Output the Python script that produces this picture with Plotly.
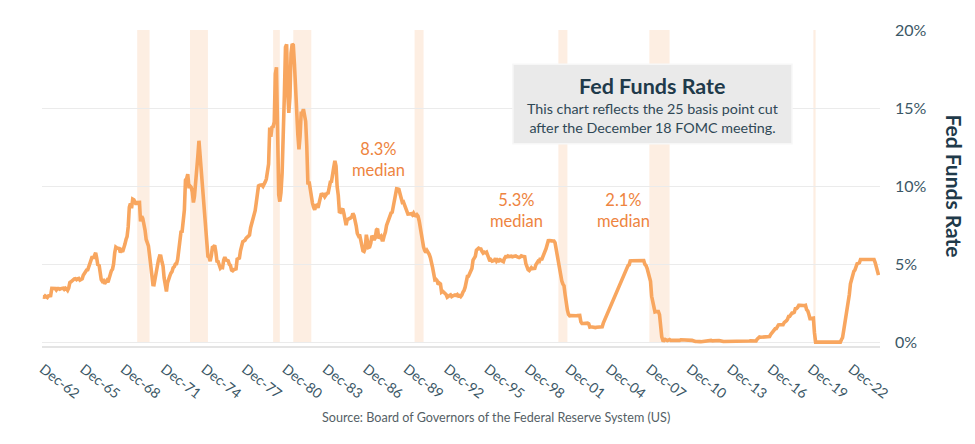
import pandas as pd
import plotly.graph_objects as go

# Monthly effective Fed Funds rate (%), Dec 1962 .. Dec 2024
start_month = "1962-12-01"
rates_1962 = [2.93]
rates_by_year = {
    1963: [2.92, 3.00, 2.98, 2.90, 3.00, 2.99, 3.02, 3.49, 3.48, 3.50, 3.48, 3.38],
    1964: [3.48, 3.48, 3.43, 3.47, 3.50, 3.50, 3.42, 3.50, 3.45, 3.36, 3.52, 3.85],
    1965: [3.90, 3.98, 4.04, 4.09, 4.10, 4.04, 4.09, 4.12, 4.01, 4.08, 4.10, 4.32],
    1966: [4.42, 4.60, 4.65, 4.67, 4.90, 5.17, 5.30, 5.53, 5.40, 5.53, 5.76, 5.40],
    1967: [4.94, 5.00, 4.53, 4.05, 3.94, 3.98, 3.79, 3.90, 3.99, 3.88, 4.13, 4.51],
    1968: [4.61, 4.71, 5.05, 5.76, 6.12, 6.07, 6.02, 6.03, 5.78, 5.91, 5.82, 6.02],
    1969: [6.30, 6.61, 6.79, 7.41, 8.67, 8.90, 8.61, 9.19, 9.15, 9.00, 8.85, 8.97],
    1970: [8.98, 8.98, 7.76, 8.10, 7.95, 7.61, 7.21, 6.61, 6.29, 6.20, 5.60, 4.90],
    1971: [4.14, 3.72, 3.71, 4.16, 4.63, 4.91, 5.31, 5.56, 5.55, 5.20, 4.91, 4.14],
    1972: [3.50, 3.29, 3.83, 4.17, 4.27, 4.46, 4.55, 4.80, 4.87, 5.04, 5.06, 5.33],
    1973: [5.94, 6.58, 7.09, 7.12, 7.84, 8.49, 10.40, 10.50, 10.78, 10.01, 10.03, 9.95],
    1974: [9.65, 8.97, 9.35, 10.51, 11.31, 11.93, 12.92, 12.01, 11.34, 10.06, 9.45, 8.53],
    1975: [7.13, 6.24, 5.54, 5.49, 5.22, 5.55, 6.10, 6.14, 6.24, 5.82, 5.22, 5.20],
    1976: [4.87, 4.77, 4.84, 4.82, 5.29, 5.48, 5.31, 5.29, 5.25, 5.02, 4.95, 4.65],
    1977: [4.61, 4.68, 4.69, 4.73, 5.35, 5.39, 5.42, 5.90, 6.14, 6.47, 6.51, 6.56],
    1978: [6.70, 6.78, 6.79, 6.89, 7.36, 7.60, 7.81, 8.04, 8.45, 8.96, 9.76, 10.03],
    1979: [10.07, 10.06, 10.09, 10.01, 10.24, 10.29, 10.47, 10.94, 11.43, 13.77, 13.18, 13.78],
    1980: [13.82, 14.13, 17.19, 17.61, 10.98, 9.47, 9.03, 9.61, 10.87, 12.81, 15.85, 18.90],
    1981: [19.08, 15.93, 14.70, 15.72, 18.52, 19.10, 19.04, 17.82, 15.87, 15.08, 13.31, 12.37],
    1982: [13.22, 14.78, 14.68, 14.94, 14.45, 14.15, 12.59, 10.12, 10.31, 9.71, 9.20, 8.95],
    1983: [8.68, 8.51, 8.77, 8.80, 8.63, 8.98, 9.37, 9.56, 9.45, 9.48, 9.34, 9.47],
    1984: [9.56, 9.59, 9.91, 10.29, 10.32, 11.06, 11.23, 11.64, 11.30, 9.99, 9.43, 8.38],
    1985: [8.35, 8.50, 8.58, 8.27, 7.97, 7.53, 7.88, 7.90, 7.92, 7.99, 8.05, 8.27],
    1986: [8.14, 7.86, 7.48, 6.99, 6.85, 6.92, 6.56, 6.17, 5.89, 5.85, 6.04, 6.91],
    1987: [6.43, 6.10, 6.13, 6.37, 6.85, 6.73, 6.58, 6.73, 7.22, 7.29, 6.69, 6.77],
    1988: [6.83, 6.58, 6.58, 6.87, 7.09, 7.51, 7.75, 8.01, 8.19, 8.30, 8.35, 8.76],
    1989: [9.12, 9.36, 9.85, 9.84, 9.81, 9.53, 9.24, 8.99, 9.02, 8.84, 8.55, 8.45],
    1990: [8.23, 8.24, 8.28, 8.26, 8.18, 8.29, 8.15, 8.13, 8.20, 8.11, 7.81, 7.31],
    1991: [6.91, 6.25, 6.12, 5.91, 5.78, 5.90, 5.82, 5.66, 5.45, 5.21, 4.81, 4.43],
    1992: [4.03, 4.06, 3.98, 3.73, 3.82, 3.76, 3.25, 3.30, 3.22, 3.10, 3.09, 2.92],
    1993: [3.02, 3.03, 3.07, 2.96, 3.00, 3.04, 3.06, 3.03, 3.09, 2.99, 3.02, 2.96],
    1994: [3.05, 3.25, 3.34, 3.56, 4.01, 4.25, 4.26, 4.47, 4.73, 4.76, 5.29, 5.45],
    1995: [5.53, 5.92, 5.98, 6.05, 6.01, 6.00, 5.85, 5.74, 5.80, 5.76, 5.80, 5.60],
    1996: [5.56, 5.22, 5.31, 5.22, 5.24, 5.27, 5.40, 5.22, 5.30, 5.24, 5.31, 5.29],
    1997: [5.25, 5.19, 5.39, 5.51, 5.50, 5.56, 5.52, 5.54, 5.54, 5.50, 5.52, 5.50],
    1998: [5.56, 5.51, 5.49, 5.45, 5.49, 5.56, 5.54, 5.55, 5.51, 5.07, 4.83, 4.68],
    1999: [4.63, 4.76, 4.81, 4.74, 4.74, 4.76, 4.99, 5.07, 5.22, 5.20, 5.42, 5.30],
    2000: [5.45, 5.73, 5.85, 6.02, 6.27, 6.53, 6.54, 6.50, 6.52, 6.51, 6.51, 6.40],
    2001: [5.98, 5.49, 5.31, 4.80, 4.21, 3.97, 3.77, 3.65, 3.07, 2.49, 2.09, 1.82],
    2002: [1.73, 1.74, 1.73, 1.75, 1.75, 1.75, 1.73, 1.74, 1.75, 1.75, 1.34, 1.24],
    2003: [1.24, 1.26, 1.25, 1.26, 1.26, 1.22, 1.01, 1.03, 1.01, 1.01, 1.00, 0.98],
    2004: [1.00, 1.01, 1.00, 1.00, 1.00, 1.03, 1.26, 1.43, 1.61, 1.76, 1.93, 2.16],
    2005: [2.28, 2.50, 2.63, 2.79, 3.00, 3.04, 3.26, 3.50, 3.62, 3.78, 4.00, 4.16],
    2006: [4.29, 4.49, 4.59, 4.79, 4.94, 4.99, 5.24, 5.25, 5.25, 5.25, 5.25, 5.24],
    2007: [5.25, 5.26, 5.26, 5.25, 5.25, 5.25, 5.26, 5.02, 4.94, 4.76, 4.49, 4.24],
    2008: [3.94, 2.98, 2.61, 2.28, 1.98, 2.00, 2.01, 2.00, 1.81, 0.97, 0.39, 0.16],
    2009: [0.15, 0.22, 0.18, 0.15, 0.18, 0.21, 0.16, 0.16, 0.15, 0.12, 0.12, 0.12],
    2010: [0.11, 0.13, 0.16, 0.20, 0.20, 0.18, 0.18, 0.19, 0.19, 0.19, 0.19, 0.18],
    2011: [0.17, 0.16, 0.14, 0.10, 0.09, 0.09, 0.07, 0.10, 0.08, 0.07, 0.08, 0.07],
    2012: [0.08, 0.10, 0.13, 0.14, 0.16, 0.16, 0.16, 0.13, 0.14, 0.16, 0.16, 0.16],
    2013: [0.14, 0.15, 0.14, 0.15, 0.11, 0.09, 0.09, 0.08, 0.08, 0.09, 0.08, 0.09],
    2014: [0.07, 0.07, 0.08, 0.09, 0.09, 0.10, 0.09, 0.09, 0.09, 0.09, 0.09, 0.12],
    2015: [0.11, 0.11, 0.11, 0.12, 0.12, 0.13, 0.13, 0.14, 0.14, 0.12, 0.12, 0.24],
    2016: [0.34, 0.38, 0.36, 0.37, 0.37, 0.38, 0.39, 0.40, 0.40, 0.40, 0.41, 0.54],
    2017: [0.65, 0.66, 0.79, 0.90, 0.91, 1.04, 1.15, 1.16, 1.15, 1.15, 1.16, 1.30],
    2018: [1.41, 1.42, 1.51, 1.69, 1.70, 1.82, 1.91, 1.91, 1.95, 2.19, 2.20, 2.27],
    2019: [2.40, 2.40, 2.41, 2.42, 2.39, 2.38, 2.40, 2.13, 2.04, 1.83, 1.55, 1.55],
    2020: [1.55, 1.58, 0.65, 0.05, 0.05, 0.05, 0.05, 0.05, 0.05, 0.05, 0.05, 0.05],
    2021: [0.05, 0.05, 0.05, 0.05, 0.05, 0.05, 0.05, 0.05, 0.05, 0.05, 0.05, 0.05],
    2022: [0.05, 0.05, 0.20, 0.33, 0.77, 1.21, 1.68, 2.33, 2.56, 3.08, 3.78, 4.10],
    2023: [4.33, 4.57, 4.65, 4.83, 5.06, 5.08, 5.12, 5.33, 5.33, 5.33, 5.33, 5.33],
    2024: [5.33, 5.33, 5.33, 5.33, 5.33, 5.33, 5.33, 5.33, 5.13, 4.83, 4.64, 4.33],
}

# NBER recessions (start, end)
recession_starts = ["1969-12-01", "1973-11-01", "1980-01-01", "1981-07-01",
                    "1990-07-01", "2001-03-01", "2007-12-01", "2020-02-01"]
recession_ends = ["1970-11-01", "1975-03-01", "1980-07-01", "1982-11-01",
                  "1991-03-01", "2001-11-01", "2009-06-01", "2020-04-01"]

tick_years = list(range(1962, 2023, 3))
tick_labels = ["Dec-%02d" % (y % 100) for y in tick_years]
y_ticks = [0, 5, 10, 15, 20]
y_tick_labels = ["0%", "5%", "10%", "15%", "20%"]

median_labels = ["8.3%<br>median", "5.3%<br>median", "2.1%<br>median"]
median_x = ["1987-11-01", "1998-02-01", "2006-01-01"]
median_y = [11.7, 8.45, 8.45]

values = list(rates_1962)
for yr in sorted(rates_by_year):
    values += rates_by_year[yr]
dates = pd.date_range(start_month, periods=len(values), freq="MS")

FONT = "Lato, 'Open Sans', sans-serif"
DARK = "#1F3A4A"
TICK = "#3B5766"

fig = go.Figure()
fig.add_trace(go.Scatter(x=dates, y=values, mode="lines",
                         line=dict(color="#F8A65F", width=3.6),
                         hoverinfo="skip", showlegend=False))

for s, e in zip(recession_starts, recession_ends):
    fig.add_shape(type="rect", xref="x", yref="y", x0=s, x1=e, y0=0, y1=20,
                  fillcolor="#FDEEE2", line_width=0, layer="below")

# title box
fig.add_shape(type="rect", xref="paper", yref="paper",
              x0=0.562, x1=0.895, y0=0.64, y1=0.892,
              fillcolor="#EAEAEA", line=dict(color="#F7F7F7", width=1.5))
fig.add_annotation(xref="paper", yref="paper", x=0.7285, y=0.822,
                   xanchor="center", yanchor="middle",
                   text="<b>Fed Funds Rate</b>", showarrow=False,
                   font=dict(family=FONT, size=21.5, color=DARK))
fig.add_annotation(xref="paper", yref="paper", x=0.7285, y=0.72,
                   xanchor="center", yanchor="middle",
                   text="This chart reflects the 25 basis point cut<br>after the December 18 FOMC meeting.",
                   showarrow=False, align="center",
                   font=dict(family=FONT, size=14.3, color="#2F4856"))

for t, xx, yy in zip(median_labels, median_x, median_y):
    fig.add_annotation(x=xx, y=yy, text=t, showarrow=False, align="center",
                       xanchor="center", yanchor="middle",
                       font=dict(family=FONT, size=16.5, color="#EE8440"))

fig.add_annotation(xref="paper", yref="paper", x=1.0895, y=0.508,
                   xanchor="center", yanchor="middle",
                   text="<b>Fed Funds Rate</b>", textangle=90, showarrow=False,
                   font=dict(family=FONT, size=21, color=DARK))
fig.add_annotation(xref="paper", yref="paper", x=0.542, y=-0.226,
                   xanchor="center", yanchor="middle",
                   text="Source: Board of Governors of the Federal Reserve System (US)",
                   showarrow=False, font=dict(family=FONT, size=12.6, color="#555F66"))

# page body adds an 8px margin, so figure is 16px smaller and margins shifted
fig.update_layout(
    width=959, height=428,
    margin=dict(l=34, r=87, t=13, b=90),
    paper_bgcolor="white", plot_bgcolor="white",
    font=dict(family=FONT),
    xaxis=dict(range=["1962-11-08", "2025-01-10"], tickmode="array",
               tickvals=[f"{y}-12-01" for y in tick_years], ticktext=tick_labels,
               tickangle=38, tickfont=dict(size=14, color=TICK),
               showgrid=False, zeroline=False, showline=True,
               linecolor="#E4E4E4", linewidth=1.5, ticks="",
               ticklabelstandoff=8),
    yaxis=dict(range=[-0.2, 20], side="right", tickmode="array",
               tickvals=y_ticks, ticktext=y_tick_labels,
               tickfont=dict(size=16, color=TICK),
               showgrid=True, gridcolor="#EBEBEB", gridwidth=1,
               zeroline=False, ticks="", ticklabelstandoff=14),
)

fig.write_html("out.html")
